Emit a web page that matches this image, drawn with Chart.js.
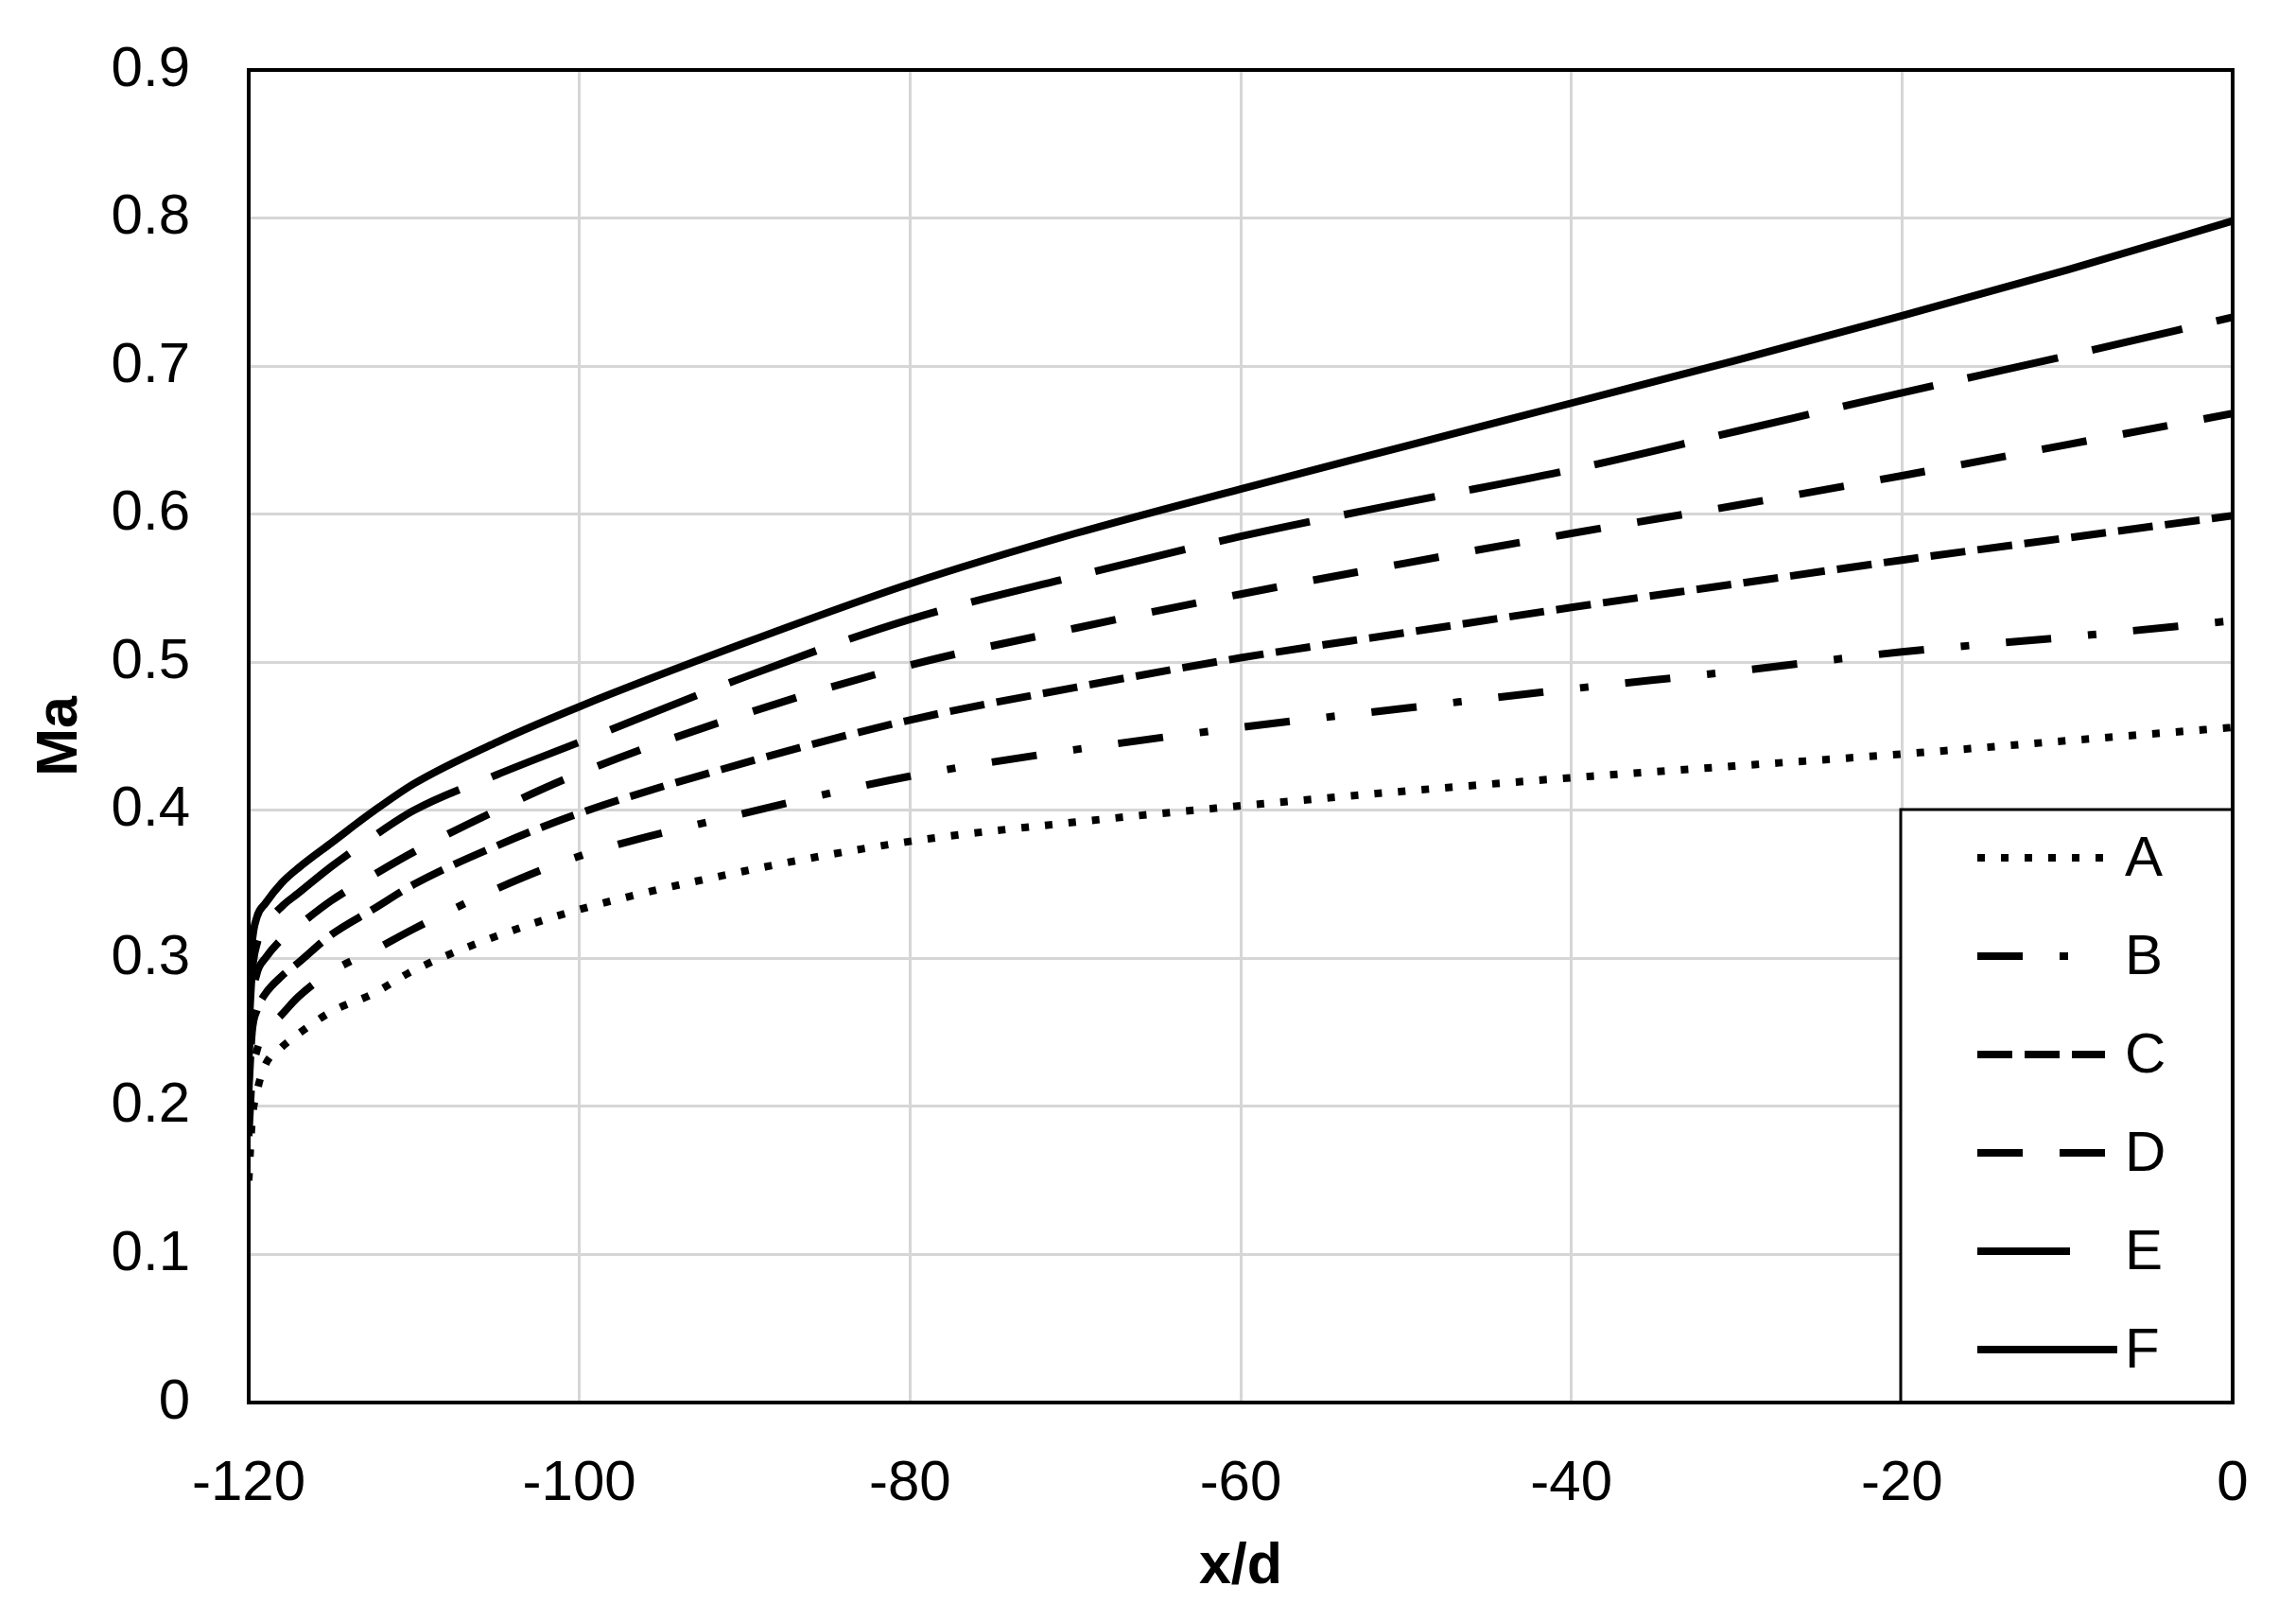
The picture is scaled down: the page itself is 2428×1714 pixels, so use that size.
<!DOCTYPE html>
<html>
<head>
<meta charset="utf-8">
<script src="https://cdn.jsdelivr.net/npm/chart.js@4.4.0/dist/chart.umd.min.js"></script>
<style>
  html, body { margin: 0; padding: 0; background: #fff; }
  canvas { display: block; }
</style>
</head>
<body>
<canvas id="grafico" width="2428" height="1714"></canvas>
<script>
// x/d positions shared by all curves
const xd = [-120, -119.8, -119.5, -119, -118, -117, -115, -112.5, -110, -105, -100, -90, -80, -70, -60, -50, -40, -30, -20, -10, 0];

// Ma values
const maA = [0.15, 0.19, 0.21, 0.228, 0.240, 0.249, 0.264, 0.276, 0.292, 0.315, 0.333, 0.359, 0.379, 0.392, 0.403, 0.413, 0.422, 0.430, 0.438, 0.447, 0.456];
const maB = [0.18, 0.22, 0.238, 0.250, 0.262, 0.274, 0.291, 0.305, 0.320, 0.347, 0.369, 0.398, 0.423, 0.441, 0.456, 0.469, 0.482, 0.494, 0.507, 0.517, 0.528];
const maC = [0.21, 0.25, 0.265, 0.276, 0.288, 0.297, 0.316, 0.333, 0.350, 0.376, 0.398, 0.432, 0.461, 0.483, 0.503, 0.520, 0.537, 0.553, 0.569, 0.584, 0.599];
const maD = [0.23, 0.27, 0.29, 0.300, 0.313, 0.322, 0.339, 0.356, 0.372, 0.400, 0.425, 0.465, 0.498, 0.523, 0.546, 0.567, 0.587, 0.606, 0.626, 0.647, 0.668];
const maE = [0.25, 0.29, 0.31, 0.322, 0.335, 0.344, 0.362, 0.382, 0.400, 0.424, 0.446, 0.490, 0.529, 0.558, 0.585, 0.608, 0.630, 0.656, 0.682, 0.707, 0.733];
const maF = [0.27, 0.31, 0.328, 0.337, 0.351, 0.361, 0.378, 0.399, 0.418, 0.446, 0.470, 0.513, 0.553, 0.587, 0.617, 0.646, 0.675, 0.704, 0.734, 0.765, 0.798];

const nomes = ["A", "B", "C", "D", "E", "F"];
const xTicks = [-120, -100, -80, -60, -40, -20, 0];
const yTicks = [0, 0.1, 0.2, 0.3, 0.4, 0.5, 0.6, 0.7, 0.8, 0.9];

const FONTE = '"Liberation Sans", Arial, sans-serif';

function pontos(ys) {
  return xd.map((x, i) => ({ x: x, y: ys[i] }));
}

// tracejados: pontilhado, traço-ponto, curto, médio, longo, contínuo
const estilos = [[8, 17], [48, 39, 9, 39], [37, 13], [48, 39], [98, 37], []];
const series = [maA, maB, maC, maD, maE, maF];

const datasets = series.map((ys, i) => ({
  label: nomes[i],
  data: pontos(ys),
  borderColor: "#000",
  borderWidth: 8,
  borderDash: estilos[i],
  borderCapStyle: "butt",
  pointRadius: 0,
  cubicInterpolationMode: "monotone",
  fill: false
}));

// legenda dentro da área, canto inferior direito, e moldura do gráfico
const legendaCaixa = {
  id: "legendaCaixa",
  afterDatasetsDraw(chart) {
    const { ctx, chartArea: a } = chart;
    const w = 351, h = 627;
    const x0 = a.right - w, y0 = a.bottom - h;
    ctx.save();
    ctx.fillStyle = "#fff";
    ctx.fillRect(x0, y0, w, h);
    ctx.lineWidth = 3;
    ctx.strokeStyle = "#000";
    ctx.strokeRect(x0, y0, w, h);

    chart.data.datasets.forEach((ds, i) => {
      const y = y0 + 51 + i * 104;
      ctx.beginPath();
      ctx.setLineDash(ds.borderDash);
      ctx.lineWidth = ds.borderWidth;
      ctx.lineCap = "butt";
      ctx.moveTo(x0 + 81, y);
      ctx.lineTo(x0 + (i === 5 ? 229 : 216), y);
      ctx.stroke();
      ctx.setLineDash([]);
      ctx.fillStyle = "#000";
      ctx.font = "60px " + FONTE;
      ctx.textBaseline = "middle";
      ctx.textAlign = "left";
      ctx.fillText(ds.label, x0 + 237, y + 2);
    });

    ctx.lineWidth = 4;
    ctx.strokeRect(a.left, a.top, a.width, a.height);
    ctx.restore();
  }
};

new Chart(document.getElementById("grafico"), {
  type: "line",
  data: { datasets: datasets },
  options: {
    responsive: false,
    devicePixelRatio: 1,
    animation: false,
    layout: { padding: { top: 74, right: 67, bottom: 0, left: 0 } },
    plugins: {
      legend: { display: false },
      tooltip: { enabled: false }
    },
    scales: {
      x: {
        type: "linear",
        min: xTicks[0],
        max: xTicks[xTicks.length - 1],
        afterBuildTicks: s => { s.ticks = xTicks.map(v => ({ value: v })); },
        afterFit: s => { s.height = 231; },
        grid: { color: "#d6d6d6", lineWidth: 3, drawTicks: false },
        border: { color: "#000", width: 4 },
        ticks: {
          color: "#000",
          font: { family: FONTE, size: 60 },
          padding: 50,
          maxRotation: 0,
          callback: v => String(v)
        },
        title: {
          display: true,
          text: "x/d",
          color: "#000",
          font: { family: FONTE, size: 61, weight: "bold" },
          padding: { top: 0, bottom: 20 }
        }
      },
      y: {
        min: yTicks[0],
        max: yTicks[yTicks.length - 1],
        afterBuildTicks: s => { s.ticks = yTicks.map(v => ({ value: v })); },
        afterFit: s => {
          s.width = 263;
          // os rótulos cabem na margem; não reservar espaço extra em cima
          s.paddingTop = 0;
          s.paddingBottom = 0;
        },
        grid: { color: "#d6d6d6", lineWidth: 3, drawTicks: false },
        border: { color: "#000", width: 4 },
        ticks: {
          color: "#000",
          font: { family: FONTE, size: 60 },
          padding: 62,
          callback: v => String(+v.toFixed(1))
        },
        title: {
          display: true,
          text: "Ma",
          color: "#000",
          font: { family: FONTE, size: 61, weight: "bold" },
          padding: { top: 28, bottom: 0 }
        }
      }
    }
  },
  plugins: [legendaCaixa]
});
</script>
</body>
</html>
